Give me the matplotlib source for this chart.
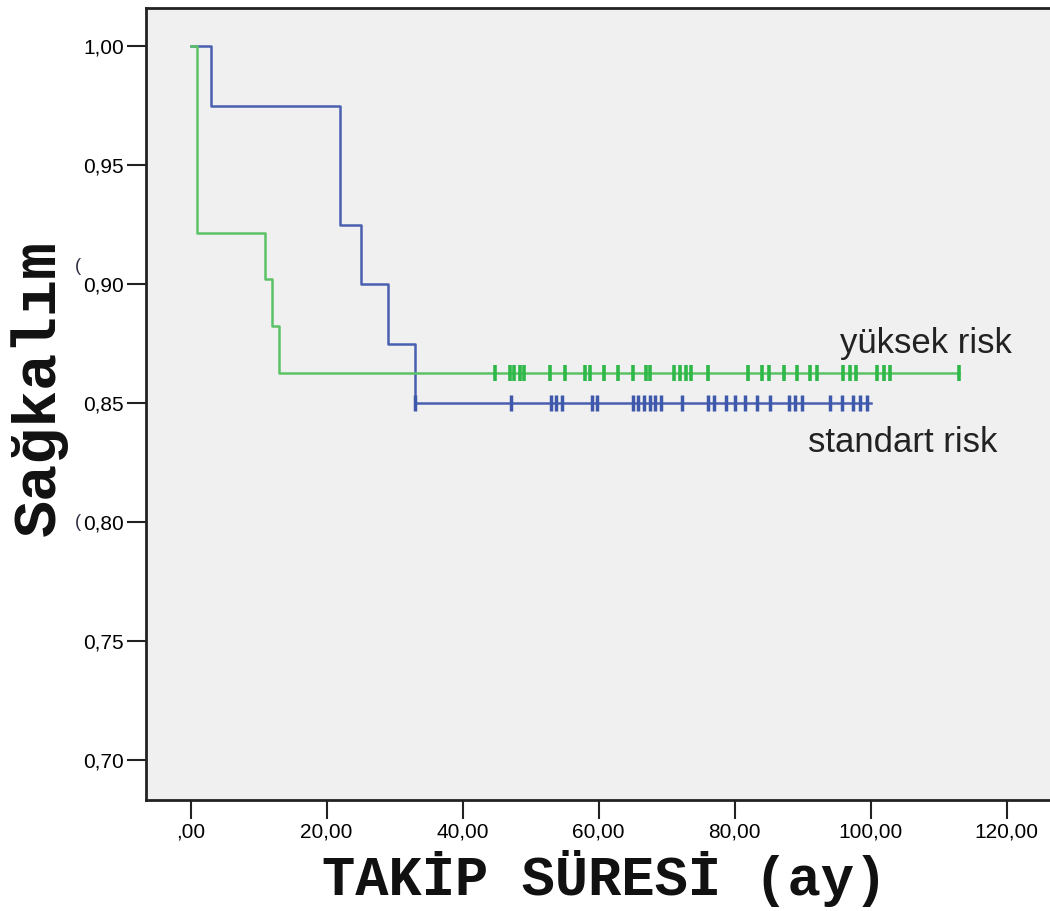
import numpy as np
import matplotlib
matplotlib.use("Agg")
import matplotlib.pyplot as plt

# Kaplan-Meier steps: event times and survival after each step
std_times = [0, 3, 22, 25, 29, 33, 100]
std_surv = [1.0, 0.975, 0.925, 0.900, 0.875, 0.850, 0.850]
std_censor = [33, 47.1, 53.0, 53.7, 54.6, 59.0, 59.7, 65.1, 65.8, 66.6, 67.5, 68.3,
              69.1, 72.2, 76.1, 76.9, 78.8, 80.1, 81.5, 83.3, 85.2, 88.0, 88.9,
              89.9, 94.0, 95.8, 97.4, 98.4, 99.5]

high_times = [0, 1, 11, 12, 13, 113]
high_surv = [1.0, 47 / 51, 46 / 51, 45 / 51, 44 / 51, 44 / 51]
high_censor = [44.8, 47.0, 47.6, 48.4, 49.0, 52.9, 55.1, 58.0, 58.7, 60.8, 62.8,
               65.1, 66.9, 67.6, 71.1, 71.9, 72.8, 73.6, 76.1, 82.0, 84.0, 85.1,
               87.2, 89.1, 91.1, 92.1, 96.0, 96.9, 97.9, 100.9, 101.9, 102.9, 113.0]

xticks = [0, 20, 40, 60, 80, 100, 120]
xtick_labels = [",00", "20,00", "40,00", "60,00", "80,00", "100,00", "120,00"]
yticks = [0.70, 0.75, 0.80, 0.85, 0.90, 0.95, 1.00]
ytick_labels = ["0,70", "0,75", "0,80", "0,85", "0,90", "0,95", "1,00"]

blue = "#4a5fb0"
green = "#5cc266"

fig = plt.figure(figsize=(10.5, 9.11), dpi=100)
ax = fig.add_axes([0.139, 0.122, 0.88, 0.869])
ax.set_facecolor("#f0f0f0")


def surv_at(times, surv, t):
    idx = np.searchsorted(times, t, side="right") - 1
    return np.array(surv)[idx]


ax.step(std_times, std_surv, where="post", color=blue, lw=1.8, zorder=3)
ax.plot(std_censor, surv_at(std_times, std_surv, std_censor), ls="none",
        marker="|", ms=11, mew=2.5, color="#3e58ac", zorder=4)

ax.step(high_times, high_surv, where="post", color=green, lw=1.8, zorder=5)
ax.plot(high_censor, surv_at(high_times, high_surv, high_censor), ls="none",
        marker="|", ms=11, mew=2.6, color="#2eb848", zorder=6)

ax.set_xlim(-6.56, 129.3)
ax.set_ylim(0.6832, 1.016)
ax.set_xticks(xticks)
ax.set_xticklabels(xtick_labels)
ax.set_yticks(yticks)
ax.set_yticklabels(ytick_labels)
ax.tick_params(axis="both", direction="out", length=14, width=1.5, color="#222222",
               labelsize=15, pad=2)
for lbl in ax.get_xticklabels() + ax.get_yticklabels():
    lbl.set_family("Liberation Sans")

for side in ["left", "bottom", "top", "right"]:
    ax.spines[side].set_linewidth(2.0)
    ax.spines[side].set_color("#222222")

ax.text(95.5, 0.8752, "yüksek risk", fontsize=25, family="Liberation Sans",
        va="center", ha="left", color="#222222")
ax.text(90.8, 0.8336, "standart risk", fontsize=25, family="Liberation Sans",
        va="center", ha="left", color="#222222")

fig.text(0.037, 0.574, "Sağkalım", rotation=90, fontsize=44.5, fontweight="bold",
         family="Liberation Mono", ha="center", va="center", color="#111111")
fig.text(0.576, 0.036, "TAKİP SÜRESİ (ay)", fontsize=40, fontweight="bold",
         family="Liberation Mono", ha="center", va="center", color="#111111")

# stray bracket glyphs beside the axis labels
fig.text(0.074, 0.708, "(", fontsize=13, family="Liberation Sans",
         ha="center", va="center", color="#2a2a40")
fig.text(0.074, 0.427, "(", fontsize=13, family="Liberation Sans",
         ha="center", va="center", color="#2a2a40")

fig.savefig("out.png", dpi=100, facecolor="white")
